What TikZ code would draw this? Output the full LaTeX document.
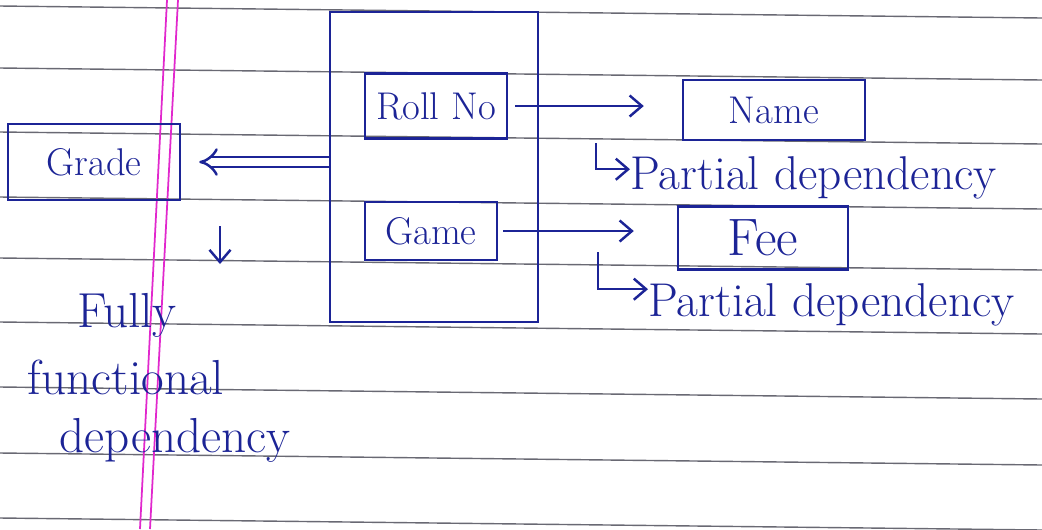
\documentclass[tikz,border=0pt]{standalone}
\usepackage{tikz}
\usetikzlibrary{arrows.meta}
\definecolor{ink}{RGB}{28,36,150}
\definecolor{rulegray}{RGB}{105,105,115}
\definecolor{marginpink}{RGB}{225,40,205}

\begin{document}
\begin{tikzpicture}[x=0.02cm,y=-0.02cm,>={Straight Barb[length=7pt,width=12pt]},
  box/.style={draw=ink,line width=1.4pt,text=ink,inner sep=0pt,font=\fontsize{22}{26}\selectfont},
  note/.style={text=ink,inner sep=0pt,font=\fontsize{27}{32}\selectfont},
  link/.style={draw=ink,line width=1.4pt}]
\useasboundingbox (0,0) rectangle (1042,529);
% ruled paper and margin
\foreach \y in {6,68,132,197,258,322,387,453,518}
  \draw[rulegray,line width=0.8pt] (0,\y) -- (1042,\y+12);
\draw[marginpink,line width=1pt] (167,0) -- (140,529);
\draw[marginpink,line width=1pt] (178,0) -- (150,529);
% attribute boxes
\node[box,minimum width=4.16cm,minimum height=6.2cm] (key) at (434,167) {};
\node[box,minimum width=2.84cm,minimum height=1.3cm] (rollno) at (436,106) {Roll No};
\node[box,minimum width=2.64cm,minimum height=1.16cm] (game) at (431,231) {Game};
\node[box,minimum width=3.64cm,minimum height=1.2cm] (name) at (774,110) {Name};
\node[box,minimum width=3.4cm,minimum height=1.26cm,font=\fontsize{30}{34}\selectfont] (fee) at (763,238) {Fee};
\node[box,minimum width=3.44cm,minimum height=1.52cm] (grade) at (94,162) {Grade};
% notes
\node[note,anchor=west] (part1) at (630,178) {Partial dependency};
\node[note,anchor=west] (part2) at (648,305) {Partial dependency};
\node[note,font=\fontsize{28}{32}\selectfont] (fully) at (127,315) {Fully};
\node[note,font=\fontsize{28}{32}\selectfont] (func) at (126,377) {functional};
\node[note,font=\fontsize{28}{32}\selectfont] (dep) at (175,440) {dependency};
% dependencies
\draw[link,->,shorten <=0.14cm,shorten >=0.76cm] (rollno.east) -- (rollno.east -| name.west);
\draw[link,->,shorten <=0.1cm,shorten >=0.86cm] (game.east) -- (game.east -| fee.west);
\draw[link,double,double distance=4pt,-{Implies},shorten >=0.36cm] (grade.east -| key.west) -- (grade.east);
\coordinate (hk1) at (596,143);
\coordinate (hk2) at (598,252);
\draw[link,->] (hk1) |- ([yshift=5pt]part1.west);
\draw[link,->] (hk2) |- ([yshift=9pt]part2.west);
\coordinate (fd1) at (220,226);
\coordinate (fd2) at (220,264);
\draw[link,->] (fd1) -- (fd2);
\end{tikzpicture}
\end{document}
